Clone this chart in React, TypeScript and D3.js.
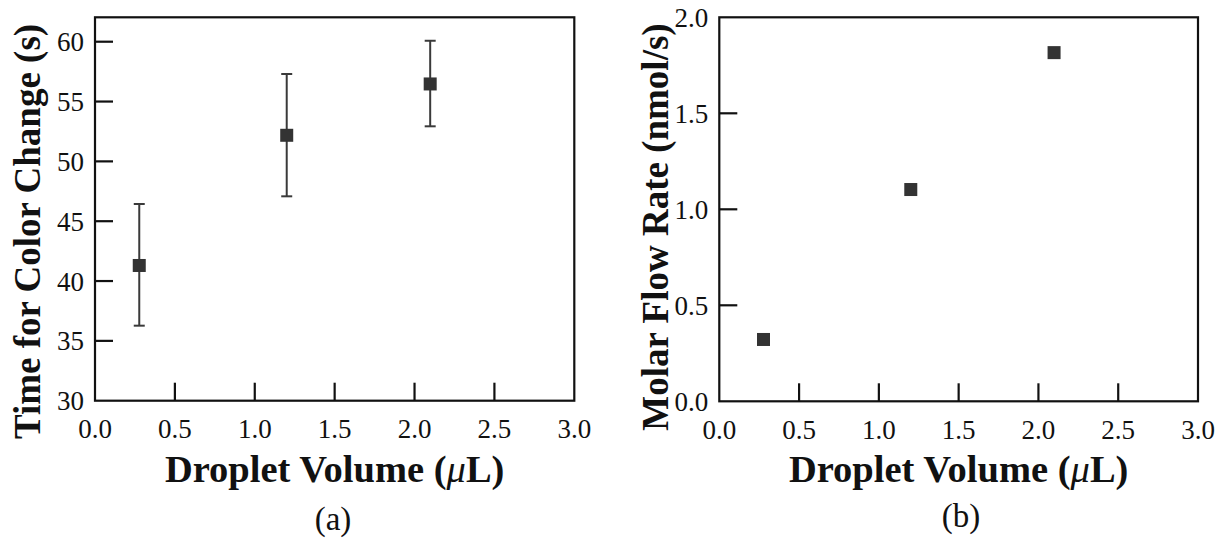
import React from "react";
import * as d3 from "d3";

const volumes = [0.277, 1.2, 2.098];
const timeMeans = [41.3, 52.18, 56.47];
const timeErrLow = [36.27, 47.08, 52.93];
const timeErrHigh = [46.44, 57.3, 60.08];
const flowRates = [0.322, 1.103, 1.816];

const xTicks = [0, 0.5, 1.0, 1.5, 2.0, 2.5, 3.0];
const yTicksA = [30, 35, 40, 45, 50, 55, 60];
const yTicksB = [0, 0.5, 1.0, 1.5, 2.0];

const FONT = "'Liberation Serif', 'Times New Roman', serif";
const INK = "#111";
const MARK = "#333";

type PanelProps = {
  left: number;
  right: number;
  top: number;
  bottom: number;
  yDomain: [number, number];
  yTicks: number[];
  yFmt: (v: number) => string;
  yLabel: string;
  yLabelX: number;
  yLabelY: number;
  tagX: number;
  tagY: number;
  tag: string;
  means: number[];
  lows?: number[];
  highs?: number[];
};

function Panel(p: PanelProps) {
  const x = d3.scaleLinear().domain([0, 3]).range([p.left, p.right]);
  const y = d3.scaleLinear().domain(p.yDomain).range([p.bottom, p.top]);
  const cx = (p.left + p.right) / 2;
  const tickLen = 18;
  return (
    <g>
      <rect x={p.left} y={p.top} width={p.right - p.left} height={p.bottom - p.top} fill="none" stroke={INK} strokeWidth={2.2} />
      {xTicks.map((t, i) => (
        <g key={"x" + i}>
          {t > 0 && t < 3 && <line x1={x(t)} x2={x(t)} y1={p.bottom} y2={p.bottom - tickLen} stroke={INK} strokeWidth={2.2} />}
          <text x={x(t)} y={p.bottom + 37.5} textAnchor="middle" fontFamily={FONT} fontSize={27} fill={INK}>
            {d3.format(".1f")(t)}
          </text>
        </g>
      ))}
      {p.yTicks.map((t, i) => (
        <g key={"y" + i}>
          {y(t) < p.bottom - 1 && y(t) > p.top + 1 && (
            <line x1={p.left} x2={p.left + tickLen} y1={y(t)} y2={y(t)} stroke={INK} strokeWidth={2.2} />
          )}
          <text x={p.left - 11} y={y(t) + 9.5} textAnchor="end" fontFamily={FONT} fontSize={27} fill={INK}>
            {p.yFmt(t)}
          </text>
        </g>
      ))}
      {p.lows && p.highs && volumes.map((v, i) => (
        <g key={"e" + i} stroke="#3a3a3a" strokeWidth={2}>
          <line x1={x(v)} x2={x(v)} y1={y(p.lows![i])} y2={y(p.highs![i])} />
          <line x1={x(v) - 5.5} x2={x(v) + 5.5} y1={y(p.lows![i])} y2={y(p.lows![i])} />
          <line x1={x(v) - 5.5} x2={x(v) + 5.5} y1={y(p.highs![i])} y2={y(p.highs![i])} />
        </g>
      ))}
      {volumes.map((v, i) => (
        <rect key={"m" + i} x={x(v) - 6.5} y={y(p.means[i]) - 6.5} width={13} height={13} fill={MARK} />
      ))}
      <text x={cx} y={p.bottom + 81} textAnchor="middle" fontFamily={FONT} fontSize={38.5} fontWeight="bold" fill={INK}>
        Droplet Volume (<tspan fontStyle="italic" fontWeight="normal">μ</tspan>L)
      </text>
      <text x={p.tagX} y={p.tagY} textAnchor="middle" fontFamily={FONT} fontSize={33} fill={INK}>
        {p.tag}
      </text>
      <text
        transform={`translate(${p.yLabelX},${p.yLabelY}) rotate(-90)`}
        textAnchor="middle"
        fontFamily={FONT}
        fontSize={37}
        fontWeight="bold"
        fill={INK}
      >
        {p.yLabel}
      </text>
    </g>
  );
}

export default function App() {
  return (
    <svg width={1217} height={540} style={{ position: "absolute", left: 0, top: 0, background: "#fff" }}>
      <Panel
        left={95}
        right={574.3}
        top={17.3}
        bottom={400.7}
        yDomain={[30, 62.04]}
        yTicks={yTicksA}
        yFmt={(v) => String(v)}
        yLabel="Time for Color Change (s)"
        yLabelX={40}
        yLabelY={231.5}
        tagX={333}
        tagY={530}
        tag="(a)"
        means={timeMeans}
        lows={timeErrLow}
        highs={timeErrHigh}
      />
      <Panel
        left={719.3}
        right={1198}
        top={17.3}
        bottom={401.3}
        yDomain={[0, 2]}
        yTicks={yTicksB}
        yFmt={(v) => d3.format(".1f")(v)}
        yLabel="Molar Flow Rate (nmol/s)"
        yLabelX={668}
        yLabelY={227}
        tagX={961}
        tagY={527}
        tag="(b)"
        means={flowRates}
      />
    </svg>
  );
}
